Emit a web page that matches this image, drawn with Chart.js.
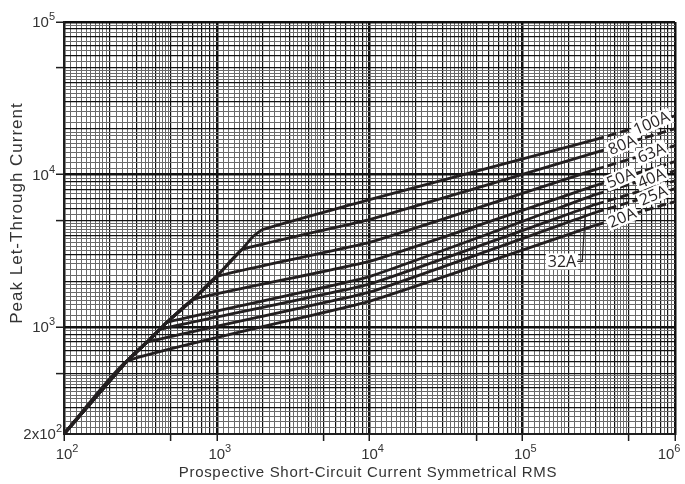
<!DOCTYPE html>
<html>
<head>
<meta charset="utf-8">
<script src="https://cdn.jsdelivr.net/npm/chart.js@4.4.1/dist/chart.umd.min.js"></script>
<style>
html, body { margin: 0; padding: 0; background: #fff; }
</style>
</head>
<body>
<canvas id="fuse-chart" width="685" height="484"></canvas>
<script>
// canvas and context
let canvas = document.querySelector('#fuse-chart')
let context = canvas.getContext('2d')

// data: fuse ratings, lowest curve first
let ratings = ['20A', '25A', '32A', '40A', '50A', '63A', '80A', '100A']

// rising part shared by all curves (prospective A -> peak A)
let commonX = [100, 258, 349, 425, 472, 700, 1000, 1462, 1726, 1995]
let commonY = [200, 600, 798, 970, 1080, 1524, 2155, 3235, 3936, 4370]

// index in commonX where each rating leaves the shared part
let kneeIndex = [1, 2, 3, 4, 5, 6, 7, 9]

// cut-off part, read at 10^4 and 3x10^5
let cutoffX = [1e4, 3e5]
let cutoffAt1e4 = [1480, 1700, 1920, 2150, 2700, 3600, 5080, 6870]
let cutoffAt3e5 = [4650, 5650, 6370, 7400, 8480, 10790, 13930, 16940]

// dashed continuation up to 10^6
let endX = 1e6
let endY = [6670, 8090, 9120, 10600, 12170, 15500, 20000, 24300]

// where the rating labels sit along the dashed part
let labelX = [4.5e5, 7.2e5, null, 7.0e5, 4.4e5, 7.0e5, 4.5e5, 7.0e5]
// 32A is labelled below the curves with a leader
let label32 = {x: 1.82e5, y: 2700}

// axis tick labels
let xDecades = [2, 3, 4, 5, 6]
let yDecades = [3, 4, 5]

let ink = '#231f20'
let textColor = '#333333'

// graph paper lines inside one decade
let gridMantissas = [1, 1.1, 1.2, 1.3, 1.4, 1.5, 1.6, 1.7, 1.8, 1.9,
    2, 2.2, 2.4, 2.6, 2.8, 3, 3.2, 3.4, 3.6, 3.8, 4, 4.2, 4.4, 4.6, 4.8,
    5, 5.5, 6, 6.5, 7, 7.5, 8, 8.5, 9, 9.5]

function logGrid(minV, maxV) {
    let values = []
    for (let d = 1; d <= 6; d++) {
        gridMantissas.forEach(function(m) {
            let v = parseFloat((m * Math.pow(10, d)).toPrecision(6))
            if (v >= minV && v <= maxV) values.push(v)
        })
    }
    return values
}

function gridKind(v) {
    let e = Math.floor(Math.log10(v) + 1e-9)
    let m = Math.round(v / Math.pow(10, e) * 100) / 100
    if (m === 1) return 'decade'
    if (m === 5) return 'five'
    if (Number.isInteger(m)) return 'major'
    return 'minor'
}

function gridColor(c) {
    let k = gridKind(c.tick.value)
    if (k === 'minor') return '#6a6a6a'
    return '#111111'
}
function gridWidth(c) {
    let k = gridKind(c.tick.value)
    if (k === 'decade') return 2.5
    if (k === 'minor') return 1
    return 1.2
}
function tickColor(c) {
    let k = gridKind(c.tick.value)
    return (k === 'decade' || k === 'five') ? '#1e1e1e' : 'rgba(0,0,0,0)'
}

// build datasets
let datasets = []
ratings.forEach(function(name, i) {
    let pts = []
    for (let j = 0; j <= kneeIndex[i]; j++) {
        pts.push({x: commonX[j], y: commonY[j]})
    }
    pts.push({x: cutoffX[0], y: cutoffAt1e4[i]})
    pts.push({x: cutoffX[1], y: cutoffAt3e5[i]})
    datasets.push({
        label: name,
        data: pts,
        borderColor: ink,
        borderWidth: 2.8,
        pointRadius: 0,
        tension: 0.1
    })
})
ratings.forEach(function(name, i) {
    datasets.push({
        label: name + ' ext',
        data: [{x: cutoffX[1], y: cutoffAt3e5[i]}, {x: endX, y: endY[i]}],
        borderColor: ink,
        borderWidth: 2.8,
        borderDash: [9, 4],
        pointRadius: 0
    })
})

function drawPower(ctx, base, exp, x, y, align) {
    ctx.font = '15px "Liberation Sans", Arial, sans-serif'
    let wb = ctx.measureText(base).width
    ctx.font = '11px "Liberation Sans", Arial, sans-serif'
    let we = ctx.measureText(exp).width
    let left
    if (align === 'right') left = x - wb - we
    else left = x - wb / 2
    ctx.textAlign = 'left'
    ctx.textBaseline = 'alphabetic'
    ctx.font = '15px "Liberation Sans", Arial, sans-serif'
    ctx.fillText(base, left, y)
    ctx.font = '11px "Liberation Sans", Arial, sans-serif'
    ctx.fillText(exp, left + wb, y - 7)
}

let textPlugin = {
    id: 'fuseText',
    afterDatasetsDraw(chart) {
        let ctx = chart.ctx
        let xs = chart.scales.x
        let ys = chart.scales.y
        ctx.save()
        ctx.font = '16px "Open Sans", sans-serif'
        ctx.textAlign = 'center'
        ctx.textBaseline = 'middle'
        ratings.forEach(function(name, i) {
            if (labelX[i] === null) return
            let x0 = xs.getPixelForValue(cutoffX[1])
            let y0 = ys.getPixelForValue(cutoffAt3e5[i])
            let x1 = xs.getPixelForValue(endX)
            let y1 = ys.getPixelForValue(endY[i])
            let px = xs.getPixelForValue(labelX[i])
            let py = y0 + (y1 - y0) * (px - x0) / (x1 - x0)
            ctx.save()
            ctx.translate(px, py)
            ctx.rotate(-0.4)
            let w = ctx.measureText(name).width
            ctx.fillStyle = '#fff'
            ctx.fillRect(-w / 2 - 2, -8, w + 4, 16)
            ctx.fillStyle = ink
            ctx.fillText(name, 0, 1)
            ctx.restore()
        })
        // 32A label with leader line
        let lx = xs.getPixelForValue(label32.x)
        let ly = ys.getPixelForValue(label32.y)
        let w = ctx.measureText('32A').width
        ctx.fillStyle = '#fff'
        ctx.fillRect(lx - w / 2 - 2, ly - 8, w + 4, 16)
        ctx.fillStyle = ink
        ctx.fillText('32A', lx, ly + 1)
        let tx = xs.getPixelForValue(2.6e5)
        let ty = ys.getPixelForValue(6000)
        ctx.strokeStyle = ink
        ctx.lineWidth = 1.2
        ctx.beginPath()
        ctx.moveTo(lx + w / 2 + 1, ly)
        ctx.lineTo(lx + w / 2 + 6, ly)
        ctx.lineTo(tx, ty)
        ctx.stroke()
        ctx.restore()
    },
    afterDraw(chart) {
        let ctx = chart.ctx
        let xs = chart.scales.x
        let ys = chart.scales.y
        ctx.save()
        ctx.fillStyle = textColor
        xDecades.forEach(function(d) {
            let x = xs.getPixelForValue(Math.pow(10, d))
            // last label is pushed left so it stays on the canvas
            if (d === 6) x -= 9
            drawPower(ctx, '10', String(d), x, 459, 'center')
        })
        yDecades.forEach(function(d) {
            let y = ys.getPixelForValue(Math.pow(10, d))
            drawPower(ctx, '10', String(d), 55, y + 5, 'right')
        })
        drawPower(ctx, '2x10', '2', 62, ys.getPixelForValue(200) + 5, 'right')

        ctx.font = '15px "Liberation Sans", Arial, sans-serif'
        ctx.letterSpacing = '0.7px'
        ctx.textAlign = 'center'
        ctx.textBaseline = 'alphabetic'
        ctx.fillText('Prospective Short-Circuit Current Symmetrical RMS', 368, 477)
        ctx.save()
        ctx.font = '17px "Liberation Sans", Arial, sans-serif'
        ctx.letterSpacing = '1px'
        ctx.translate(22, 213)
        ctx.rotate(-Math.PI / 2)
        ctx.fillText('Peak Let-Through Current', 0, 0)
        ctx.restore()
        ctx.restore()
    }
}

// create chart
let chart = new Chart(context, {
    type: 'line',
    data: { datasets: datasets },
    options: {
        responsive: false,
        animation: false,
        layout: { padding: { top: 22, right: 10, left: 0, bottom: 0 } },
        plugins: { legend: { display: false }, tooltip: { enabled: false } },
        scales: {
            x: {
                type: 'logarithmic',
                min: 100,
                max: 1e6,
                afterBuildTicks: function(scale) {
                    scale.ticks = logGrid(100, 1e6).map(function(v) { return {value: v} })
                },
                afterFit: function(scale) { scale.height = 50 },
                ticks: { display: false },
                border: { display: true, color: '#1e1e1e', width: 2 },
                grid: {
                    color: gridColor,
                    lineWidth: gridWidth,
                    drawTicks: true,
                    tickLength: 7,
                    tickColor: tickColor,
                    tickWidth: 1.5
                }
            },
            y: {
                type: 'logarithmic',
                min: 200,
                max: 1e5,
                afterBuildTicks: function(scale) {
                    scale.ticks = logGrid(200, 1e5).map(function(v) { return {value: v} })
                },
                afterFit: function(scale) { scale.width = 64 },
                ticks: { display: false },
                border: { display: true, color: '#1e1e1e', width: 2 },
                grid: {
                    color: gridColor,
                    lineWidth: gridWidth,
                    drawTicks: true,
                    tickLength: 8,
                    tickColor: tickColor,
                    tickWidth: 1.5
                }
            }
        }
    },
    plugins: [textPlugin]
})
</script>
</body>
</html>
